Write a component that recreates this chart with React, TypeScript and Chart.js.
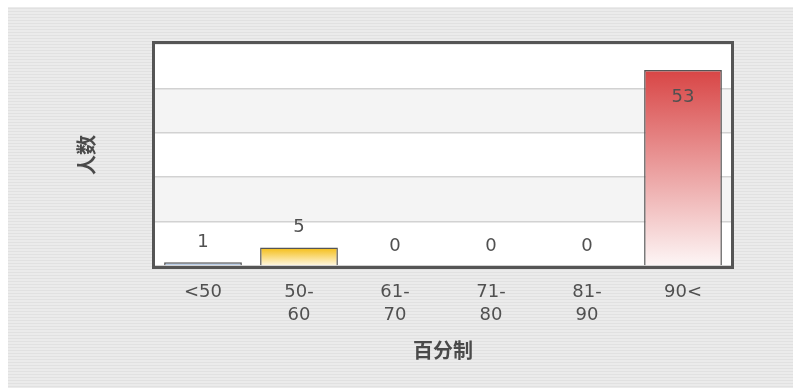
import { useEffect, useRef } from 'react';
import { Chart, registerables } from 'chart.js';

Chart.register(...registerables);

// Score bands (百分制) and the number of people (人数) in each
const categories: (string | string[])[] = ['<50', ['50-', '60'], ['61-', '70'], ['71-', '80'], ['81-', '90'], '90<'];
const counts = [1, 5, 0, 0, 0, 53];

// Each bar fades from its top colour down to a pale base
const barTopColors = ['#aac0de', '#f4bc12', '#d84545', '#cccccc', '#cccccc', '#d84545'];
const barBottomColors = ['#c4d6ec', '#fff9e6', '#fdf6f6', '#ffffff', '#ffffff', '#fdf6f6'];

const yMax = 60;
const yStep = 12;
const xTitle = '百分制';
const yTitle = '人数';

const FONT = '"DejaVu Sans", "Noto Sans CJK SC", sans-serif';
const TEXT = '#505050';

const panelPlugin = {
  id: 'panelBackground',
  beforeDraw(chart: any) {
    const { ctx, width, height, chartArea, scales } = chart;
    ctx.save();
    // striped panel
    ctx.fillStyle = '#ebebeb';
    ctx.fillRect(0, 0, width, height);
    ctx.fillStyle = '#e1e1e1';
    for (let y = 1; y < height; y += 3) ctx.fillRect(0, y, width, 1);
    // plot area with alternating bands
    const { left, top, right, bottom } = chartArea;
    ctx.fillStyle = '#ffffff';
    ctx.fillRect(left, top, right - left, bottom - top);
    const ys = scales.y;
    ctx.fillStyle = '#f4f4f4';
    let band = 0;
    for (let v = yMax; v > 0; v -= yStep) {
      if (band % 2 === 1) {
        const y1 = ys.getPixelForValue(v);
        const y2 = ys.getPixelForValue(v - yStep);
        ctx.fillRect(left, y1, right - left, y2 - y1);
      }
      band++;
    }
    ctx.restore();
  },
};

const framePlugin = {
  id: 'plotFrame',
  afterDatasetsDraw(chart: any) {
    const { ctx, chartArea } = chart;
    const { left, top, right, bottom } = chartArea;
    ctx.save();
    ctx.strokeStyle = '#555555';
    ctx.lineWidth = 3;
    ctx.strokeRect(left - 1.5, top - 1.5, right - left + 3, bottom - top + 3);

    // value labels: above the bar, or inside it near the top of the scale
    const meta = chart.getDatasetMeta(0);
    ctx.font = `18px ${FONT}`;
    ctx.fillStyle = TEXT;
    ctx.textAlign = 'center';
    ctx.textBaseline = 'middle';
    meta.data.forEach((bar: any, i: number) => {
      const v = counts[i];
      const y = v / yMax > 0.8 ? bar.y + 27 : bar.y - 20;
      ctx.fillText(String(v), bar.x, y);
    });
    ctx.restore();
  },
};

export default function App() {
  const canvasRef = useRef<HTMLCanvasElement | null>(null);

  useEffect(() => {
    const canvas = canvasRef.current;
    if (!canvas) return;
    const chart = new Chart(canvas, {
      type: 'bar',
      data: {
        labels: categories as any,
        datasets: [
          {
            data: counts,
            backgroundColor: (c: any) => {
              const i = c.dataIndex ?? 0;
              const chartRef = c.chart;
              const area = chartRef.chartArea;
              const ys = chartRef.scales?.y;
              if (!area || !ys) return barTopColors[i];
              const top = ys.getPixelForValue(counts[i]);
              const base = ys.getPixelForValue(0);
              if (base - top < 1) return barTopColors[i];
              const g = chartRef.ctx.createLinearGradient(0, top, 0, base);
              g.addColorStop(0, barTopColors[i]);
              g.addColorStop(1, barBottomColors[i]);
              return g;
            },
            borderColor: '#555555',
            borderWidth: (c: any) =>
              counts[c.dataIndex ?? 0] > 0
                ? { top: 1.5, left: 1.5, right: 1.5, bottom: 0 }
                : 0,
            borderSkipped: false,
            barPercentage: 0.81,
            categoryPercentage: 1,
          },
        ],
      },
      options: {
        responsive: false,
        animation: false,
        devicePixelRatio: 1,
        layout: { padding: { top: 37, right: 62, bottom: 0, left: 69 } },
        plugins: {
          legend: { display: false },
          tooltip: { enabled: false },
        },
        scales: {
          x: {
            grid: { display: false, drawTicks: false },
            border: { display: false },
            ticks: {
              color: TEXT,
              padding: 15,
              maxRotation: 0,
              autoSkip: false,
              font: { family: FONT, size: 18, lineHeight: 1.28 },
            },
            title: {
              display: true,
              text: xTitle,
              color: '#4a4a4a',
              padding: { top: 0, bottom: 23 },
              font: { family: FONT, size: 20, weight: 'bold', lineHeight: 1.2 },
            },
            afterFit: (scale: any) => {
              scale.height = 122;
            },
          },
          y: {
            min: 0,
            max: yMax,
            grid: { color: '#d2d2d2', lineWidth: 1.5, drawTicks: false },
            border: { display: false },
            ticks: { display: false, stepSize: yStep },
            title: {
              display: true,
              text: yTitle,
              color: '#4a4a4a',
              padding: { top: 0, bottom: 0 },
              font: { family: FONT, size: 20, weight: 'bold', lineHeight: 1.2 },
            },
            afterFit: (scale: any) => {
              scale.width = 78;
            },
          },
        },
      },
      plugins: [panelPlugin, framePlugin],
    });
    return () => chart.destroy();
  }, []);

  return (
    <div style={{ position: 'absolute', left: 8, top: 7, width: 785, height: 381 }}>
      <canvas ref={canvasRef} width={785} height={381} style={{ display: 'block' }} />
    </div>
  );
}
